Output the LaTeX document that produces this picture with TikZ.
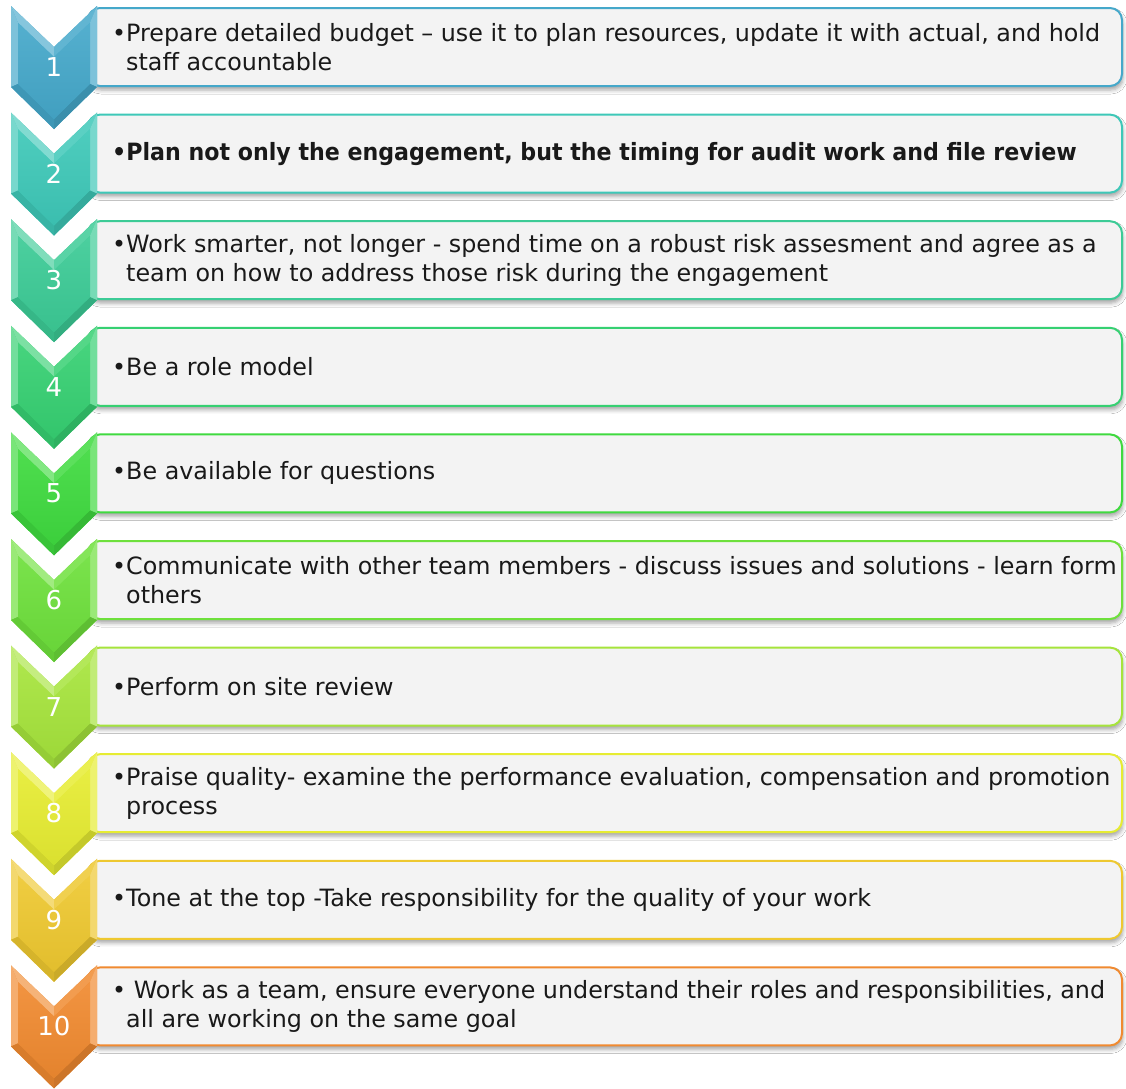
\documentclass[tikz,border=0pt]{standalone}
\usepackage{fontspec}
\setmainfont{DejaVu Sans}
\usetikzlibrary{shadows.blur}
\definecolor{c1}{HTML}{45A8CA}
\definecolor{c2}{HTML}{3EC8B8}
\definecolor{c3}{HTML}{3CCB96}
\definecolor{c4}{HTML}{36D072}
\definecolor{c5}{HTML}{3FDA3F}
\definecolor{c6}{HTML}{6EE03C}
\definecolor{c7}{HTML}{A6E43C}
\definecolor{c8}{HTML}{E6EC32}
\definecolor{c9}{HTML}{EEC830}
\definecolor{c10}{HTML}{F08A30}
\definecolor{boxgray}{HTML}{F3F3F3}
\tikzset{
  boxst/.style={rounded corners=12, line width=2, fill=boxgray,
    blur shadow={shadow xshift=1pt, shadow yshift=-4pt, shadow blur radius=4pt, shadow opacity=35}},
  numst/.style={text=white, font=\fontsize{26}{30}\selectfont, inner sep=0},
  txtst/.style={anchor=west, align=left, inner sep=0, font=\fontsize{23.8}{29}\selectfont, text=black!90},
}
\newcommand\chevitem[3]{%
  \begin{scope}[shift={(0,{6+(#1-1)*106.6})}]
    \draw[boxst, draw=#2] (88,2) rectangle (1122,80);
    % chevron base
    \fill[#2] (11,0) -- (54,41) -- (97,0) -- (97,81) -- (54,123) -- (11,81) -- cycle;
    % bevel facets
    \fill[#2!70!white] (11,0) -- (18,16.6) -- (18,77.9) -- (11,81) -- cycle;
    \fill[#2!65!white] (11,0) -- (54,41) -- (54,51) -- (18,16.6) -- cycle;
    \fill[#2!85!white] (54,41) -- (97,0) -- (90,16.6) -- (54,51) -- cycle;
    \fill[#2!70!white] (97,0) -- (97,81) -- (90,77.9) -- (90,16.6) -- cycle;
    \fill[#2!85!black] (97,81) -- (54,123) -- (54,113) -- (90,77.9) -- cycle;
    \fill[#2!90!black] (54,123) -- (11,81) -- (18,77.9) -- (54,113) -- cycle;
    \shade[top color=#2!92!white, bottom color=#2!95!black] (18,16.6) -- (54,51) -- (90,16.6) -- (90,77.9) -- (54,113) -- (18,77.9) -- cycle;
    \node[numst] (n#1) at (54,61) {#1};
    \node[txtst] (t#1) at (112,41) {#3};
  \end{scope}}
\begin{document}
\begin{tikzpicture}[x=1pt,y=-1pt]
  \fill[white] (0,0) rectangle (1126,1088);
  \useasboundingbox (0,0) rectangle (1126,1088);
  \chevitem{1}{c1}{•Prepare detailed budget – use it to plan resources, update it with actual, and hold\\\hphantom{•}staff accountable}
  \chevitem{2}{c2}{\bfseries\addfontfeature{FakeStretch=0.93}•Plan not only the engagement, but the timing for audit work and file review}
  \chevitem{3}{c3}{•Work smarter, not longer - spend time on a robust risk assesment and agree as a\\\hphantom{•}team on how to address those risk during the engagement}
  \chevitem{4}{c4}{•Be a role model}
  \chevitem{5}{c5}{•Be available for questions}
  \chevitem{6}{c6}{•Communicate with other team members - discuss issues and solutions - learn form\\\hphantom{•}others}
  \chevitem{7}{c7}{•Perform on site review}
  \chevitem{8}{c8}{•Praise quality- examine the performance evaluation, compensation and promotion\\\hphantom{•}process}
  \chevitem{9}{c9}{•Tone at the top -Take responsibility for the quality of your work}
  \chevitem{10}{c10}{• Work as a team, ensure everyone understand their roles and responsibilities, and\\\hphantom{•}all are working on the same goal}
\end{tikzpicture}
\end{document}
